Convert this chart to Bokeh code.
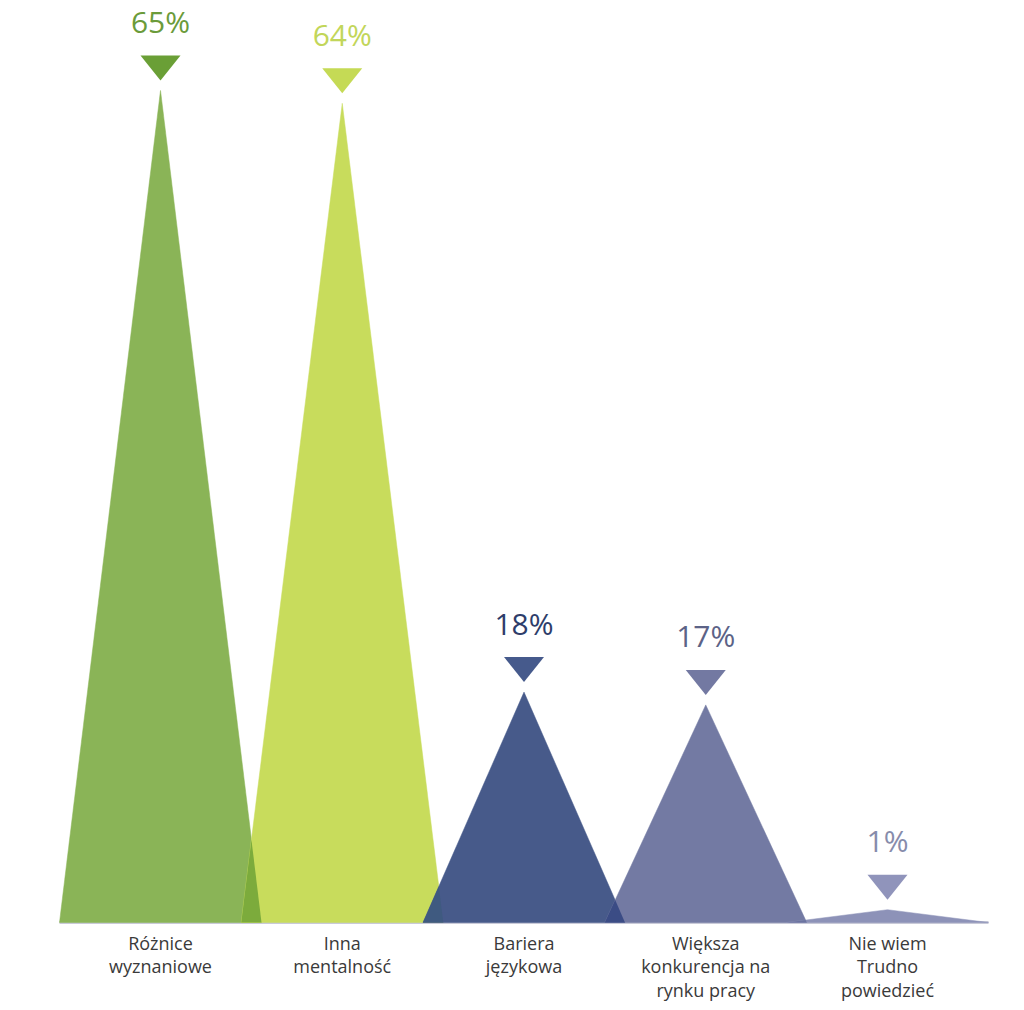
import numpy as np
from bokeh.plotting import figure
from bokeh.models import ColumnDataSource
from bokeh.core.properties import value
from bokeh.embed import file_html
from bokeh.resources import INLINE

# ---- data ----
categories = ["Różnice\nwyznaniowe", "Inna\nmentalność", "Bariera\njęzykowa",
              "Większa\nkonkurencja na\nrynku pracy", "Nie wiem\nTrudno\npowiedzieć"]
values = [65, 64, 18, 17, 1]
value_labels = ["65%", "64%", "18%", "17%", "1%"]

# ---- styles ----
tri_colors = ["#8ab457", "#c8dc5c", "#475a8a", "#737aa3", "#8d92b8"]
overlap_colors = ["#7cab3c", "#3f5a80", "#3b4c85", "#6b73a0"]
marker_colors = ["#6a9f36", "#c5da55", "#465a8c", "#7379a2", "#9094bb"]
text_colors = ["#6b9b3a", "#c2d65a", "#2e3d6a", "#5c6387", "#878cab"]
label_color = "#3a3a3a"

W, H = 1024, 1010
px_per_x = 181.75          # pixels per category step
px_per_y = 12.8            # pixels per percent
left_px, base_px = 160, 922
half_w = 101 / px_per_x    # half base width in data units

x_start = -left_px / px_per_x
x_end = (W - left_px) / px_per_x
y_end = base_px / px_per_y
y_start = -(H - base_px) / px_per_y

p = figure(width=W, height=H, x_range=(x_start, x_end), y_range=(y_start, y_end),
           output_backend="svg", toolbar_location=None, min_border=0)
p.axis.visible = False
p.grid.visible = False
p.outline_line_color = None
p.background_fill_color = "white"
p.border_fill_color = "white"

n = len(values)
xs = np.arange(n, dtype=float)

# baseline
p.segment(x0=[xs[0] - half_w], y0=[0], x1=[xs[-1] + half_w], y1=[0],
          line_color="#c9cad8", line_width=3)

# big triangles
tri_src = ColumnDataSource(dict(
    xs=[[x - half_w, x, x + half_w] for x in xs],
    ys=[[0, v, 0] for v in values],
    color=tri_colors,
))
p.patches("xs", "ys", source=tri_src, fill_color="color", line_color="color", line_width=0.5)

# overlap regions between neighbouring triangles
oxs, oys = [], []
for i in range(n - 1):
    c0, c1 = xs[i], xs[i + 1]
    v0, v1 = values[i], values[i + 1]
    d = c1 - c0
    yi = (2 * half_w - d) / (half_w * (1 / v0 + 1 / v1))
    xi = c0 + half_w * (1 - yi / v0)
    oxs.append([c1 - half_w, xi, c0 + half_w])
    oys.append([0, yi, 0])
ov_src = ColumnDataSource(dict(xs=oxs, ys=oys, color=overlap_colors))
p.patches("xs", "ys", source=ov_src, fill_color="color", line_color=None)

# small inverted triangle markers above apexes
mw = 20 / px_per_x
mh = 25 / px_per_y
gap = 10 / px_per_y
mk_src = ColumnDataSource(dict(
    xs=[[x - mw, x + mw, x] for x in xs],
    ys=[[v + gap + mh, v + gap + mh, v + gap] for v in values],
    color=marker_colors,
))
p.patches("xs", "ys", source=mk_src, fill_color="color", line_color=None)

# percentage labels
p.text(x=xs, y=values, text=value_labels, text_color=text_colors,
       text_font=value("Open Sans"), text_font_size="30px",
       text_align="center", text_baseline="alphabetic", y_offset=-69)

# category labels (one glyph per line)
line_gap = 23.5
max_lines = max(len(c.split("\n")) for c in categories)
for k in range(max_lines):
    lx, lt = [], []
    for i, c in enumerate(categories):
        parts = c.split("\n")
        if k < len(parts):
            lx.append(xs[i])
            lt.append(parts[k])
    p.text(x=lx, y=[0] * len(lx), text=lt, text_color=label_color,
           text_font=value("Open Sans"), text_font_size="18px",
           text_align="center", text_baseline="alphabetic",
           y_offset=20 + line_gap * k)

open("out.html", "w").write(file_html(p, INLINE))
